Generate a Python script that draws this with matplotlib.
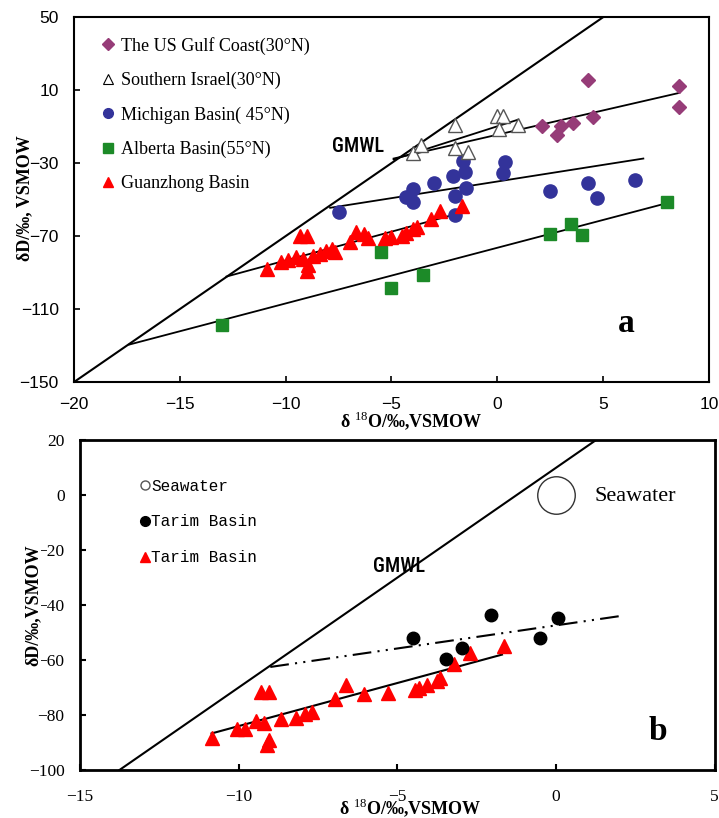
import matplotlib
matplotlib.use('Agg')
import matplotlib.pyplot as plt
from matplotlib.lines import Line2D
from matplotlib import font_manager

plt.rcParams['font.family'] = ['Liberation Serif', 'DejaVu Serif']
plt.rcParams['mathtext.fontset'] = 'custom'
plt.rcParams['mathtext.rm'] = 'Liberation Serif'
plt.rcParams['mathtext.bf'] = 'Liberation Serif:bold'

# narrow font for the GMWL tags if there is one
installed = {f.name for f in font_manager.fontManager.ttflist}
narrow = 'Liberation Sans'
for name in ['Liberation Sans Narrow', 'DejaVu Sans Condensed', 'Roboto Condensed']:
    if name in installed:
        narrow = name
        break

# ---------------- panel a data ----------------
gulf_x = [2.1, 2.8, 3.0, 3.6, 4.3, 4.5, 8.6, 8.6]
gulf_y = [-9.5, -14.5, -9.5, -8.0, 15.5, -4.5, 12.5, 1.0]

israel_x = [-4.0, -3.6, -2.0, -2.0, -1.4, 0.0, 0.25, 0.1, 1.0]
israel_y = [-24.5, -20.0, -9.0, -21.5, -24.0, -4.0, -4.0, -11.5, -9.0]

michigan_x = [-7.5, -4.3, -4.0, -4.0, -3.0, -2.1, -2.0, -2.0, -1.6, -1.55,
              -1.5, 0.25, 0.35, 2.5, 4.3, 4.7, 6.5]
michigan_y = [-57.0, -48.5, -44.0, -51.5, -41.0, -37.0, -48.0, -58.5, -29.0,
              -35.0, -43.5, -35.5, -29.5, -45.5, -41.0, -49.0, -39.0]

alberta_x = [-13.0, -5.5, -5.0, -3.5, 2.5, 3.5, 4.0, 8.0]
alberta_y = [-119.0, -78.5, -98.5, -91.5, -69.0, -63.5, -69.5, -51.5]

guanzhong_x = [-10.9, -10.2, -9.9, -9.5, -9.3, -9.0, -9.0, -8.95, -8.7, -8.1,
               -7.8, -7.65, -6.95, -6.7, -6.1, -5.3, -4.5, -4.3, -4.0, -3.8,
               -3.15, -2.7, -1.65, -9.2, -8.4, -5.0, -6.3]
guanzhong_y = [-88.0, -84.0, -83.0, -81.5, -70.0, -70.0, -89.0, -86.0, -81.0,
               -78.0, -77.0, -79.0, -73.5, -68.0, -71.0, -71.0, -70.0, -68.5,
               -66.0, -65.0, -60.5, -56.0, -53.5, -82.5, -80.0, -70.5, -69.0]

# fitted lines (start / end)
gmwl_a_x = [-20, 5]
gmwl_a_y = [-150, 50]
gulf_fit_x = [-4.9, 8.6]
gulf_fit_y = [-27.5, 8.5]
israel_fit_x = [-4.9, 0.95]
israel_fit_y = [-28.0, -6.3]
michigan_fit_x = [-7.9, 6.9]
michigan_fit_y = [-54.5, -27.5]
alberta_fit_x = [-17.4, 8.0]
alberta_fit_y = [-129.5, -52.0]
guanzhong_fit_x = [-12.8, -1.65]
guanzhong_fit_y = [-92.2, -57.0]

# ---------------- panel b data ----------------
seawater_x = [0.0]
seawater_y = [0.0]

tarim_c_x = [-4.5, -3.45, -2.95, -2.05, -0.5, 0.05]
tarim_c_y = [-52.0, -59.5, -55.5, -43.5, -52.0, -44.5]

tarim_t_x = [-10.85, -10.05, -9.8, -9.45, -9.3, -9.05, -9.2, -9.05, -9.1, -8.65,
             -8.2, -7.9, -7.7, -6.95, -6.6, -6.05, -5.3, -4.45, -4.3, -4.05,
             -3.75, -3.65, -3.2, -2.7, -1.65]
tarim_t_y = [-88.5, -85.0, -85.0, -82.0, -71.5, -71.5, -83.0, -89.0, -91.0, -81.5,
             -81.0, -79.5, -79.0, -74.0, -69.0, -72.5, -72.0, -71.0, -70.0, -69.0,
             -67.5, -66.5, -61.5, -57.5, -55.0]

gmwl_b_x = [-13.75, 1.25]
gmwl_b_y = [-100, 20]
tarim_c_fit_x = [-9.0, 2.0]
tarim_c_fit_y = [-62.5, -44.0]
tarim_t_fit_x = [-10.85, -1.7]
tarim_t_fit_y = [-86.7, -58.0]

# colours
c_gulf = '#963C78'
c_mich = '#33339A'
c_alb = '#1C8A28'
c_red = '#FF0000'

fig = plt.figure(figsize=(7.19, 8.18), dpi=100)

# ================= panel a =================
ax1 = fig.add_axes([0.103, 0.533, 0.883, 0.446])
ax1.plot(gmwl_a_x, gmwl_a_y, color='black', lw=1.5)
for fx, fy in [(gulf_fit_x, gulf_fit_y), (israel_fit_x, israel_fit_y),
               (michigan_fit_x, michigan_fit_y), (alberta_fit_x, alberta_fit_y),
               (guanzhong_fit_x, guanzhong_fit_y)]:
    ax1.plot(fx, fy, color='black', lw=1.3)

ax1.plot(alberta_x, alberta_y, 's', color=c_alb, ms=8.5, mec=c_alb)
ax1.plot(michigan_x, michigan_y, 'o', color=c_mich, ms=9.5, mec=c_mich)
ax1.plot(guanzhong_x, guanzhong_y, '^', color=c_red, ms=10, mec=c_red)
ax1.plot(israel_x, israel_y, '^', mfc='white', mec='#555555', ms=9.5, mew=1.0)
ax1.plot(gulf_x, gulf_y, 'D', color=c_gulf, ms=7, mec=c_gulf)

ax1.set_xlim(-20, 10)
ax1.set_ylim(-150, 50)
ax1.set_xticks([-20, -15, -10, -5, 0, 5, 10])
ax1.set_yticks([-150, -110, -70, -30, 10, 50])
ax1.tick_params(direction='in', length=4, width=1.2, pad=11, labelsize=12.5)
for lab in ax1.get_xticklabels() + ax1.get_yticklabels():
    lab.set_fontfamily(['Liberation Sans', 'DejaVu Sans'])
for sp in ax1.spines.values():
    sp.set_linewidth(1.5)

ax1.set_xlabel('δ $^{18}$O/‰,VSMOW', fontsize=13, fontweight='bold', va='center')
ax1.xaxis.set_label_coords(0.531, -0.107)
ax1.set_ylabel('δD/‰, VSMOW', fontsize=13, fontweight='bold', va='center')
ax1.yaxis.set_label_coords(-0.077, 0.505)

handles_a = [
    Line2D([], [], ls='', marker='D', color=c_gulf, ms=6),
    Line2D([], [], ls='', marker='^', mfc='white', mec='black', ms=7, mew=0.8),
    Line2D([], [], ls='', marker='o', color=c_mich, ms=7),
    Line2D([], [], ls='', marker='s', color=c_alb, ms=6.5),
    Line2D([], [], ls='', marker='^', color=c_red, ms=7.5),
]
labels_a = ['The US Gulf Coast(30°N)', 'Southern Israel(30°N)',
            'Michigan Basin( 45°N)', 'Alberta Basin(55°N)', 'Guanzhong Basin']
ax1.legend(handles_a, labels_a, loc='upper left', bbox_to_anchor=(0.045, 0.946),
           frameon=False, handlelength=0.6, handletextpad=0.4,
           labelspacing=0.95, borderpad=0, borderaxespad=0,
           prop={'family': 'Liberation Sans' if False else 'Liberation Serif', 'size': 13})

ax1.text(-6.6, -21, 'GMWL', fontsize=14.5, ha='center', va='center',
         family=narrow, fontweight='medium')
ax1.text(6.1, -118, 'a', fontsize=24, fontweight='bold', ha='center', va='center')

# ================= panel b =================
ax2 = fig.add_axes([0.111, 0.0587, 0.883, 0.403])
ax2.plot(gmwl_b_x, gmwl_b_y, color='black', lw=1.5)
ax2.plot(tarim_c_fit_x, tarim_c_fit_y, color='black', lw=1.5,
         ls=(0, (9, 3, 1, 3, 1, 3)))
ax2.plot(tarim_t_fit_x, tarim_t_fit_y, color='black', lw=1.5)
ax2.plot(tarim_t_x, tarim_t_y, '^', color=c_red, ms=10, mec=c_red)
ax2.plot(tarim_c_x, tarim_c_y, 'o', color='black', ms=9)
ax2.plot(seawater_x, seawater_y, 'o', mfc='white', mec='#333333', ms=27, mew=1.0)

ax2.set_xlim(-15, 5)
ax2.set_ylim(-100, 20)
ax2.set_xticks([-15, -10, -5, 0, 5])
ax2.set_yticks([-100, -80, -60, -40, -20, 0, 20])
ax2.tick_params(direction='in', length=4, width=1.5, labelsize=12.5)
ax2.tick_params(axis='x', pad=14)
ax2.tick_params(axis='y', pad=11)
for sp in ax2.spines.values():
    sp.set_linewidth(2)

ax2.set_xlabel('δ $^{18}$O/‰,VSMOW', fontsize=13, fontweight='bold', va='center')
ax2.xaxis.set_label_coords(0.521, -0.115)
ax2.set_ylabel('δD/‰,VSMOW', fontsize=13, fontweight='bold', va='center',
               bbox=dict(facecolor='white', edgecolor='none', pad=0))
ax2.yaxis.set_label_coords(-0.074, 0.50)

handles_b = [
    Line2D([], [], ls='', marker='o', mfc='white', mec='#555555', ms=6.5),
    Line2D([], [], ls='', marker='o', color='black', ms=7),
    Line2D([], [], ls='', marker='^', color=c_red, ms=7.5),
]
labels_b = ['Seawater', 'Tarim Basin', 'Tarim Basin']
ax2.legend(handles_b, labels_b, loc='upper left', bbox_to_anchor=(0.097, 0.884),
           frameon=False, handlelength=0.5, handletextpad=0.1,
           labelspacing=1.3, borderpad=0, borderaxespad=0,
           prop={'family': 'Liberation Mono', 'size': 11.5})

ax2.text(-4.95, -26, 'GMWL', fontsize=14.5, ha='center', va='center',
         family=narrow, fontweight='medium')
ax2.text(1.2, -0.5, 'Seawater', fontsize=16, va='center', ha='left')
ax2.text(3.2, -86, 'b', fontsize=24, fontweight='bold', ha='center', va='center')

fig.savefig('out.png', dpi=100, facecolor='white')
